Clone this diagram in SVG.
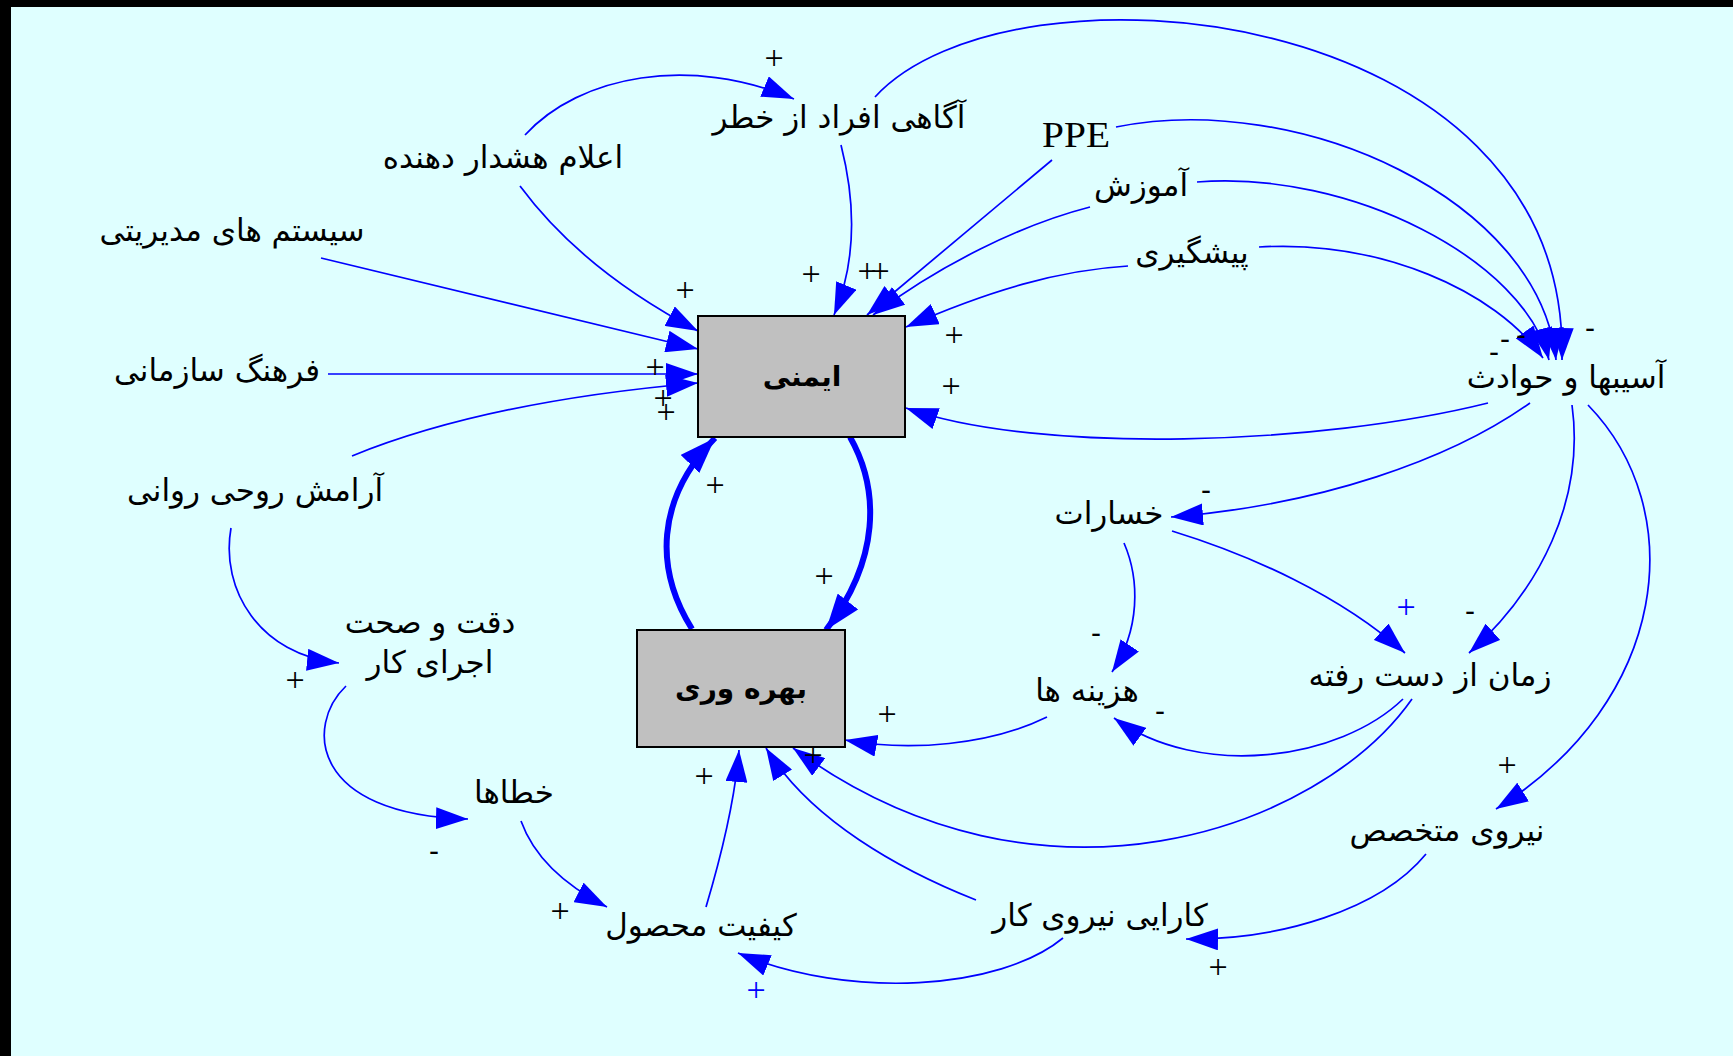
<svg xmlns="http://www.w3.org/2000/svg" width="1733" height="1056" viewBox="0 0 1733 1056">
  <defs>
    <marker id="ah" markerUnits="userSpaceOnUse" viewBox="0 0 32 22" refX="32" refY="11" markerWidth="32" markerHeight="22" orient="auto">
      <path d="M0,0 L32,11 L0,22 z" fill="#0000ff"/>
    </marker>
    <marker id="ahb" markerUnits="userSpaceOnUse" viewBox="0 0 36 26" refX="36" refY="13" markerWidth="36" markerHeight="26" orient="auto">
      <path d="M0,0 L36,13 L0,26 z" fill="#0000ff"/>
    </marker>
    <style>
      .lnk { fill: none; stroke: #0000ff; stroke-width: 1.7; marker-end: url(#ah); }
      .thick { fill: none; stroke: #0000ff; stroke-width: 6; marker-end: url(#ahb); }
      .var { font-family: "DejaVu Sans", sans-serif; font-size: 31px; fill: #000; text-anchor: middle; }
      .box { fill: #c0c0c0; stroke: #000; stroke-width: 2; }
      .boxlbl { font-family: "DejaVu Sans", sans-serif; font-size: 28px; font-weight: bold; fill: #000; text-anchor: middle; }
      .plus { font-family: "Liberation Serif", serif; font-size: 34px; fill: #000; text-anchor: middle; }
      .minus { font-family: "Liberation Sans", sans-serif; font-size: 30px; fill: #000; text-anchor: middle; }
      .blue { fill: #0000ff; }
    </style>
  </defs>

  <!-- background and frame -->
  <rect x="0" y="0" width="1733" height="1056" fill="#dfffff"/>
  <rect x="0" y="0" width="1733" height="7" fill="#000"/>
  <rect x="0" y="0" width="11" height="1056" fill="#000"/>

  <!-- connectors -->
  <g id="links">
    <path class="lnk" d="M525,135 C580,75 690,55 794,99"/>
    <path class="lnk" d="M520,186 C560,240 620,290 698,331"/>
    <path class="lnk" d="M321,258 L698,349"/>
    <path class="lnk" d="M328,374 L698,374"/>
    <path class="lnk" d="M352,456 C440,420 560,395 698,383"/>
    <path class="lnk" d="M841,145 C855,200 857,260 834,315"/>
    <path class="lnk" d="M1052,160 L867,315"/>
    <path class="lnk" d="M1090,207 C1020,225 940,265 873,315"/>
    <path class="lnk" d="M1128,266 C1060,270 990,290 906,327"/>
    <path class="lnk" d="M1488,403 C1320,445 1040,455 906,408"/>
    <path class="thick" d="M850,437 C880,490 880,560 826,630"/>
    <path class="thick" d="M692,629 C655,570 655,500 715,438"/>
    <path class="lnk" d="M1530,403 C1450,460 1320,505 1171,517"/>
    <path class="lnk" d="M1572,405 C1585,500 1540,590 1469,653"/>
    <path class="lnk" d="M1588,405 C1690,510 1670,700 1496,809"/>
    <path class="lnk" d="M1124,543 C1140,580 1140,630 1112,672"/>
    <path class="lnk" d="M1172,531 C1250,555 1340,595 1405,653"/>
    <path class="lnk" d="M1403,699 C1340,760 1200,780 1114,718"/>
    <path class="lnk" d="M1412,699 C1320,830 1040,930 793,748"/>
    <path class="lnk" d="M976,900 C900,870 810,820 766,748"/>
    <path class="lnk" d="M706,907 C720,860 735,800 739,750"/>
    <path class="lnk" d="M521,821 C535,860 570,888 607,907"/>
    <path class="lnk" d="M346,686 C305,725 310,815 468,819"/>
    <path class="lnk" d="M231,528 C220,590 260,655 339,663"/>
    <path class="lnk" d="M1426,854 C1380,910 1280,940 1186,939"/>
    <path class="lnk" d="M1063,938 C1000,990 850,1000 738,953"/>
    <path class="lnk" d="M1047,717 C990,745 910,752 845,740"/>
    <path class="lnk" d="M875,97 C1010,-50 1570,0 1562,360"/>
    <path class="lnk" d="M1116,127 C1300,90 1540,200 1556,360"/>
    <path class="lnk" d="M1197,182 C1350,170 1525,260 1549,360"/>
    <path class="lnk" d="M1259,247 C1380,240 1495,290 1543,358"/>
  </g>

  <!-- link polarity labels -->
  <g id="polarity">
    <text class="plus" x="774" y="69">+</text>
    <text class="plus" x="685" y="301">+</text>
    <text class="plus" x="811" y="285">+</text>
    <text class="plus" x="867" y="282">+</text>
    <text class="plus" x="880" y="282">+</text>
    <text class="plus" x="954" y="346">+</text>
    <text class="plus" x="951" y="397">+</text>
    <text class="plus" x="655" y="378">+</text>
    <text class="plus" x="663" y="409">+</text>
    <text class="plus" x="666" y="423">+</text>
    <text class="plus" x="715" y="496">+</text>
    <text class="plus" x="824" y="587">+</text>
    <text class="plus" x="887" y="725">+</text>
    <text class="plus" x="813" y="766">+</text>
    <text class="plus" x="704" y="787">+</text>
    <text class="plus" x="560" y="922">+</text>
    <text class="plus" x="295" y="691">+</text>
    <text class="plus" x="1218" y="978">+</text>
    <text class="plus blue" x="756" y="1001">+</text>
    <text class="plus blue" x="1406" y="618">+</text>
    <text class="plus" x="1507" y="776">+</text>
    <text class="minus" x="434" y="861">-</text>
    <text class="minus" x="1206" y="500">-</text>
    <text class="minus" x="1470" y="621">-</text>
    <text class="minus" x="1096" y="643">-</text>
    <text class="minus" x="1160" y="721">-</text>
    <text class="minus" x="1590" y="338">-</text>
    <text class="minus" x="1521" y="345">-</text>
    <text class="minus" x="1505" y="349">-</text>
    <text class="minus" x="1494" y="362">-</text>
  </g>

  <!-- stock boxes -->
  <g id="n-imeni">
    <rect class="box" x="698" y="316" width="207" height="121"/>
    <text class="boxlbl" x="802" y="386">ایمنی</text>
  </g>
  <g id="n-bahrevari">
    <rect class="box" x="637" y="630" width="208" height="117"/>
    <text class="boxlbl" x="741" y="698">بهره وری</text>
  </g>

  <!-- auxiliary variables -->
  <g id="n-elam"><text class="var" x="503" y="168">اعلام هشدار دهنده</text></g>
  <g id="n-agahi"><text class="var" x="839" y="128">آگاهی افراد از خطر</text></g>
  <g id="n-ppe"><text x="1076" y="147" font-family="Liberation Serif, serif" font-size="36" text-anchor="middle" textLength="68" lengthAdjust="spacingAndGlyphs">PPE</text></g>
  <g id="n-amoozesh"><text class="var" x="1141" y="196">آموزش</text></g>
  <g id="n-pishgiri"><text class="var" x="1192" y="263">پیشگیری</text></g>
  <g id="n-system"><text class="var" x="232" y="241">سیستم های مدیریتی</text></g>
  <g id="n-farhang"><text class="var" x="217" y="381">فرهنگ سازمانی</text></g>
  <g id="n-aramesh"><text class="var" x="255" y="501">آرامش روحی روانی</text></g>
  <g id="n-deghat">
    <text class="var" x="430" y="633">دقت و صحت</text>
    <text class="var" x="430" y="673">اجرای کار</text>
  </g>
  <g id="n-khataha"><text class="var" x="514" y="803">خطاها</text></g>
  <g id="n-keyfiat"><text class="var" x="701" y="936">کیفیت محصول</text></g>
  <g id="n-karaei"><text class="var" x="1100" y="926">کارایی نیروی کار</text></g>
  <g id="n-niroo"><text class="var" x="1447" y="841">نیروی متخصص</text></g>
  <g id="n-zaman"><text class="var" x="1430" y="686">زمان از دست رفته</text></g>
  <g id="n-hazine"><text class="var" x="1087" y="701">هزینه ها</text></g>
  <g id="n-khesarat"><text class="var" x="1109" y="524">خسارات</text></g>
  <g id="n-asib"><text class="var" x="1566" y="388">آسیبها و حوادث</text></g>
</svg>
